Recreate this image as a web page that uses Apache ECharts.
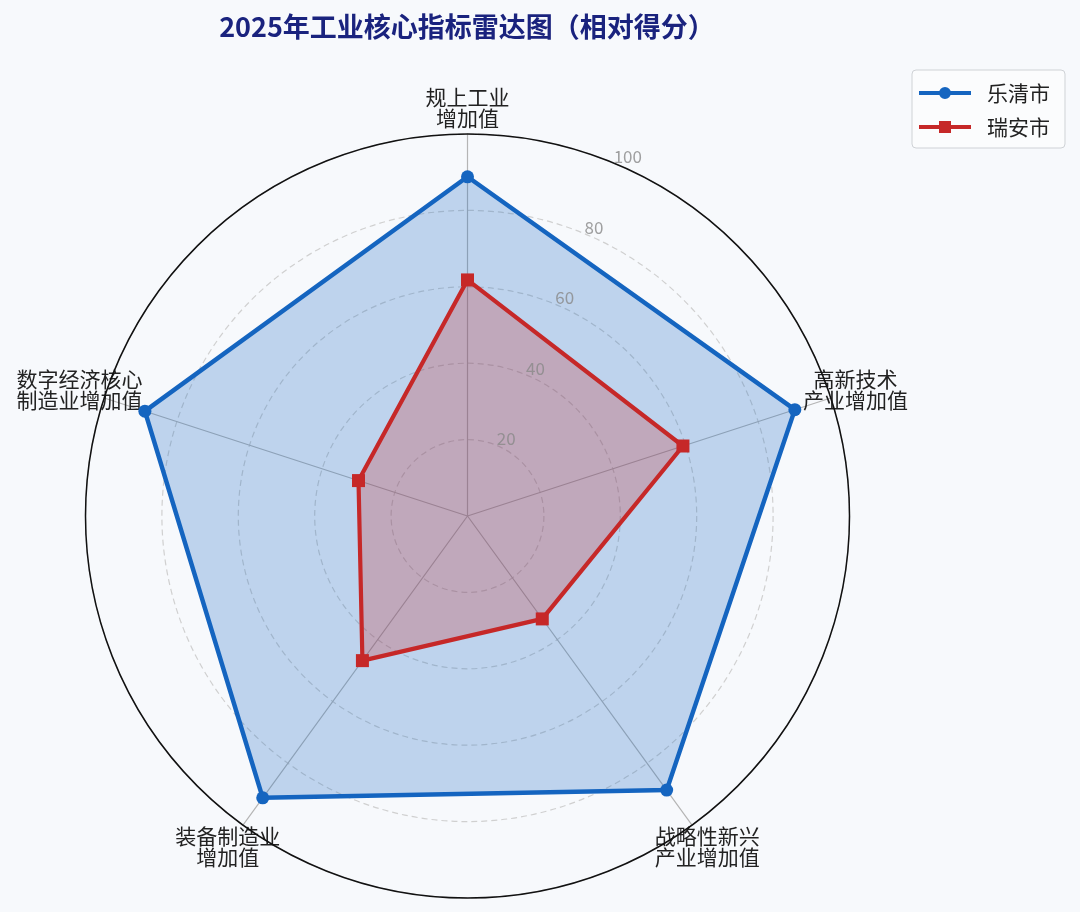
<!DOCTYPE html>
<html>
<head>
<meta charset="utf-8">
<script src="https://cdn.jsdelivr.net/npm/echarts@6/dist/echarts.min.js"></script>
<style>
html,body{margin:0;padding:0;background:#f7f9fc;}
#chart{width:1080px;height:912px;}
</style>
</head>
<body>
<div id="chart"></div>
<script>
// ---- data (clockwise from top) ----
const categories = ['规上工业\n增加值', '高新技术\n产业增加值', '战略性新兴\n产业增加值', '装备制造业\n增加值', '数字经济核心\n制造业增加值'];
const seriesNames = ['乐清市', '瑞安市'];
const yueqing = [88.8, 90.1, 88.7, 91.2, 88.8];
const ruian = [61.8, 59.3, 33.3, 46.8, 30.0];
const tickValues = [20, 40, 60, 80, 100];
const maxValue = 100;
const tickLabelAngle = 22.5;

// ECharts radar runs counter-clockwise: reorder so the layout runs clockwise
const order = [0, 4, 3, 2, 1];
const reorder = arr => order.map(i => arr[i]);

const FONT = '"Noto Sans CJK SC", "Noto Sans", sans-serif';
const BLUE = '#1565c0';
const RED = '#c62828';
const CX = 467.5, CY = 516, R = 382;

const chart = echarts.init(document.getElementById('chart'), null, {renderer: 'canvas'});
const option = {
  backgroundColor: '#f7f9fc',
  animation: false,
  textStyle: {fontFamily: FONT},
  title: {
    text: '2025年工业核心指标雷达图（相对得分）',
    left: 467, top: 13, textAlign: 'center', padding: 0,
    textStyle: {fontFamily: FONT, fontSize: 27, fontWeight: 'bold', color: '#1a237e'}
  },
  legend: {
    orient: 'vertical',
    left: 912, top: 70,
    padding: [11, 15, 9, 7],
    itemGap: 10,
    itemWidth: 52, itemHeight: 12,
    backgroundColor: '#fbfcfd',
    borderColor: '#cfd2d6', borderWidth: 1, borderRadius: 4,
    textStyle: {fontFamily: FONT, fontSize: 21, color: '#222', lineHeight: 24, padding: [0, 0, 0, 11]},
    data: [
      {name: seriesNames[0], icon: 'path://M0,4L52,4L52,8L0,8ZM20,6A6,6,0,1,1,32,6A6,6,0,1,1,20,6Z'},
      {name: seriesNames[1], icon: 'path://M0,4L52,4L52,8L0,8ZM20,0L32,0L32,12L20,12Z'}
    ]
  },
  radar: {
    center: [CX, CY],
    radius: R,
    shape: 'circle',
    startAngle: 90,
    splitNumber: tickValues.length,
    indicator: reorder(categories).map(n => ({name: n, min: 0, max: maxValue})),
    nameGap: 26,
    axisName: {
      color: '#222', fontFamily: FONT, fontSize: 21, lineHeight: 21,
      align: 'center', verticalAlign: 'middle'
    },
    axisLine: {show: true, lineStyle: {color: '#b5b5b5', width: 1.2}},
    axisTick: {show: false},
    axisLabel: {show: false},
    splitArea: {show: false},
    splitLine: {show: true, lineStyle: {color: '#d0d0d0', width: 1.2, type: [6, 4]}}
  },
  polar: {center: [CX, CY], radius: R},
  angleAxis: {
    z: 3,
    type: 'value', min: 0, max: 360, startAngle: 90, clockwise: true,
    axisLine: {show: true, lineStyle: {color: '#111', width: 1.5}},
    axisTick: {show: false}, axisLabel: {show: false}, splitLine: {show: false}
  },
  radiusAxis: {
    type: 'value', min: 0, max: maxValue, show: false,
    axisLine: {show: false}, axisTick: {show: false}, axisLabel: {show: false}, splitLine: {show: false}
  },
  series: [
    {
      name: seriesNames[0], type: 'radar', z: 4,
      symbol: 'circle', symbolSize: 13,
      itemStyle: {color: BLUE},
      lineStyle: {color: BLUE, width: 4.5},
      areaStyle: {color: BLUE, opacity: 0.25},
      data: [{name: seriesNames[0], value: reorder(yueqing)}]
    },
    {
      name: seriesNames[1], type: 'radar', z: 5,
      symbol: 'rect', symbolSize: 13,
      itemStyle: {color: RED},
      lineStyle: {color: RED, width: 4.2},
      areaStyle: {color: RED, opacity: 0.25},
      data: [{name: seriesNames[1], value: reorder(ruian)}]
    },
    {
      name: 'ticks', type: 'scatter', coordinateSystem: 'polar', z: 6,
      symbolSize: 0, silent: true, legendHoverLink: false,
      label: {
        show: true, position: 'right', distance: 0, verticalAlign: 'bottom',
        offset: [0, 2],
        formatter: p => String(p.value[0]),
        color: '#888888', fontFamily: FONT, fontSize: 17
      },
      data: tickValues.map(v => [v, tickLabelAngle])
    }
  ]
};
chart.setOption(option);
</script>
</body>
</html>
